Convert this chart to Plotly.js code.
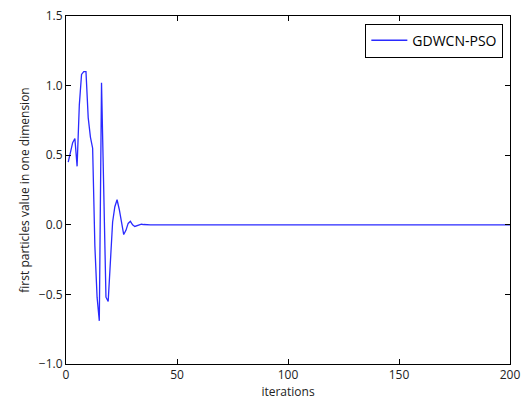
<!DOCTYPE html>
<html>
<head>
<meta charset="utf-8">
<script src="https://cdn.plot.ly/plotly-3.0.1.min.js"></script>
<style>html,body{margin:0;padding:0;background:#fff;}#chart{width:529px;height:403px;}</style>
</head>
<body>
<div id="chart"></div>
<script>
const seriesName = "GDWCN-PSO";
const firstParticleValue = [
  0.45, 0.53, 0.59, 0.62, 0.42, 0.86, 1.08, 1.10, 1.10, 0.77,
  0.63, 0.55, -0.15, -0.52, -0.69, 1.02, 0.24, -0.52, -0.55, -0.22,
  0.02, 0.13, 0.18, 0.11, 0.02, -0.07, -0.04, 0.01, 0.025, 0.0,
  -0.012, -0.006, 0.003, 0.004, 0.002,
  0,0,0,0,0,0,0,0,0,0,0,0,0,0,0,
  0,0,0,0,0,0,0,0,0,0,0,0,0,0,0,
  0,0,0,0,0,0,0,0,0,0,0,0,0,0,0,
  0,0,0,0,0,0,0,0,0,0,0,0,0,0,0,
  0,0,0,0,0,0,0,0,0,0,0,0,0,0,0,
  0,0,0,0,0,0,0,0,0,0,0,0,0,0,0,
  0,0,0,0,0,0,0,0,0,0,0,0,0,0,0,
  0,0,0,0,0,0,0,0,0,0,0,0,0,0,0,
  0,0,0,0,0,0,0,0,0,0,0,0,0,0,0,
  0,0,0,0,0,0,0,0,0,0,0,0,0,0,0,
  0,0,0,0,0,0,0,0,0,0,0,0,0,0,0
];
const iterations = firstParticleValue.map((v, i) => i + 1);
const xTicks = [0, 50, 100, 150, 200];
const yTicks = [-1.0, -0.5, 0.0, 0.5, 1.0, 1.5];

const font = {family: "Open Sans, DejaVu Sans, sans-serif", size: 12, color: "#222"};

const trace = {
  x: iterations, y: firstParticleValue, type: "scatter", mode: "lines",
  name: seriesName, line: {color: "#2a2aff", width: 1.3}
};

const axisCommon = {
  showgrid: false, zeroline: false, showline: true, linecolor: "#000", linewidth: 1,
  mirror: "ticks", ticks: "inside", ticklen: 5, tickcolor: "#000", tickwidth: 1,
  tickfont: font
};

const layout = {
  width: 529, height: 403,
  margin: {l: 66, r: 19, t: 16, b: 39},
  paper_bgcolor: "#fff", plot_bgcolor: "#fff",
  font: font,
  showlegend: true,
  legend: {
    x: 0.985, y: 0.978, xanchor: "right", yanchor: "top",
    bordercolor: "#000", borderwidth: 1, bgcolor: "#fff", itemwidth: 36,
    font: {family: "Open Sans, DejaVu Sans, sans-serif", size: 14, color: "#000"}
  },
  xaxis: Object.assign({}, axisCommon, {
    range: [0, 200], tickvals: xTicks,
    title: {text: "iterations", font: font, standoff: 2}
  }),
  yaxis: Object.assign({}, axisCommon, {
    range: [-1.0, 1.5], tickvals: yTicks, tickformat: ".1f",
    title: {text: "first particles value in one dimension", font: font, standoff: 6}
  })
};

Plotly.newPlot("chart", [trace], layout, {displayModeBar: false, staticPlot: true});
</script>
</body>
</html>
